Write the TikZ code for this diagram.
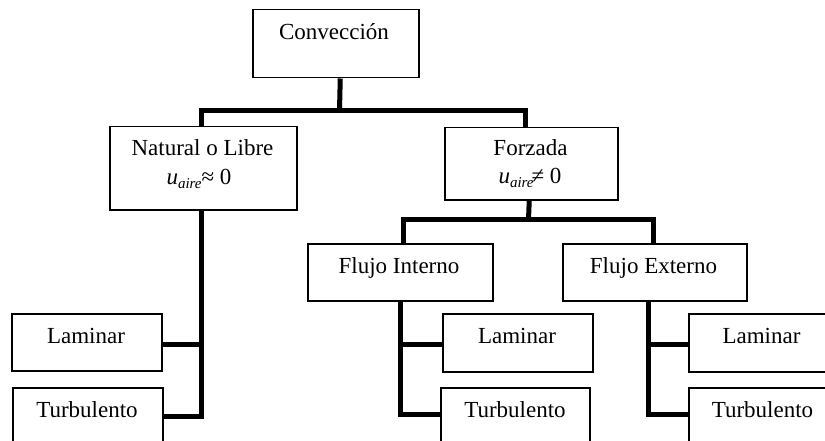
\documentclass[tikz,border=0pt]{standalone}
\usepackage{fontspec}
\setmainfont{Liberation Serif}
\usetikzlibrary{calc}
\begin{document}
\begin{tikzpicture}[x=1pt,y=-1pt,
  box/.style={draw, line width=1.5pt, rectangle, inner sep=0pt, anchor=north west},
  txt/.style={anchor=base, inner sep=0pt, font=\fontsize{23}{28}\selectfont},
  conn/.style={line width=5pt}]
\useasboundingbox (0,0) rectangle (825,441);
\clip (0,0) rectangle (825,441);
% boxes
\node[box, minimum width=166pt, minimum height=68pt] (conv) at (252,9) {};
\node[box, minimum width=187pt, minimum height=83pt] (nat) at (109,126) {};
\node[box, minimum width=173pt, minimum height=72pt] (forz) at (444,127) {};
\node[box, minimum width=185pt, minimum height=57pt] (fint) at (307,243) {};
\node[box, minimum width=184pt, minimum height=57pt] (fext) at (562,243) {};
\node[box, minimum width=150pt, minimum height=57pt] (lamL) at (11,313) {};
\node[box, minimum width=150pt, minimum height=57pt] (turbL) at (12,387) {};
\node[box, minimum width=150pt, minimum height=58pt] (lamI) at (442,313) {};
\node[box, minimum width=149pt, minimum height=57pt] (turbI) at (440,387) {};
\node[box, minimum width=150pt, minimum height=58pt] (lamE) at (688,313) {};
\node[box, minimum width=150pt, minimum height=57pt] (turbE) at (688,387) {};
% texts
\node[txt] (tconv) at (334,40) {Convección};
\node[txt] (tnat1) at (202.5,156) {Natural o Libre};
\node[txt] (tnat2) at (199,185) {{\itshape u\raisebox{-0.3ex}{\fontsize{15}{15}\selectfont aire}}≈ 0};
\node[txt] (tforz1) at (530.5,156) {Forzada};
\node[txt] (tforz2) at (530,184) {{\itshape u\raisebox{-0.3ex}{\fontsize{15}{15}\selectfont aire}}\kern-2pt≠ 0};
\node[txt] (tfint) at (399,273) {Flujo Interno};
\node[txt] (tfext) at (653.5,273) {Flujo Externo};
\node[txt] (tlamL) at (86,343) {Laminar};
\node[txt] (tturbL) at (87,417) {Turbulento};
\node[txt] (tlamI) at (517,343) {Laminar};
\node[txt] (tturbI) at (515,417) {Turbulento};
\node[txt] (tlamE) at (761.5,343) {Laminar};
\node[txt] (tturbE) at (762.5,417) {Turbulento};
% connectors
\coordinate (b1) at (339.5,110.5);
\coordinate (b2) at (528.5,219.5);
\draw[conn] ([xshift=4.5pt]conv.south) -- (b1);
\draw[conn] ([xshift=-2pt]nat.north) |- (b1) -| ([xshift=-6pt]forz.north);
\draw[conn] ([xshift=-2pt]forz.south) -- (b2);
\draw[conn] ([xshift=3pt]fint.north) |- (b2) -| ([xshift=-1.5pt]fext.north);
% natural branches
\draw[conn] ([xshift=-1.5pt]nat.south) |- (turbL.east);
\draw[conn] ($(lamL.east)+(0,2.5)$) -- ($(nat.south |- lamL.east)+(-1.5,2.5)$);
% interno branches
\draw[conn] ([xshift=0.5pt]fint.south) |- ([yshift=2pt]turbI.west);
\draw[conn] ($(lamI.west)+(0,1.5)$) -- ($(fint.south |- lamI.west)+(0.5,1.5)$);
% externo branches
\draw[conn] ([xshift=-6.5pt]fext.south) |- ([yshift=2pt]turbE.west);
\draw[conn] ($(lamE.west)+(0,1.5)$) -- ($(fext.south |- lamE.west)+(-6.5,1.5)$);
\end{tikzpicture}
\end{document}
